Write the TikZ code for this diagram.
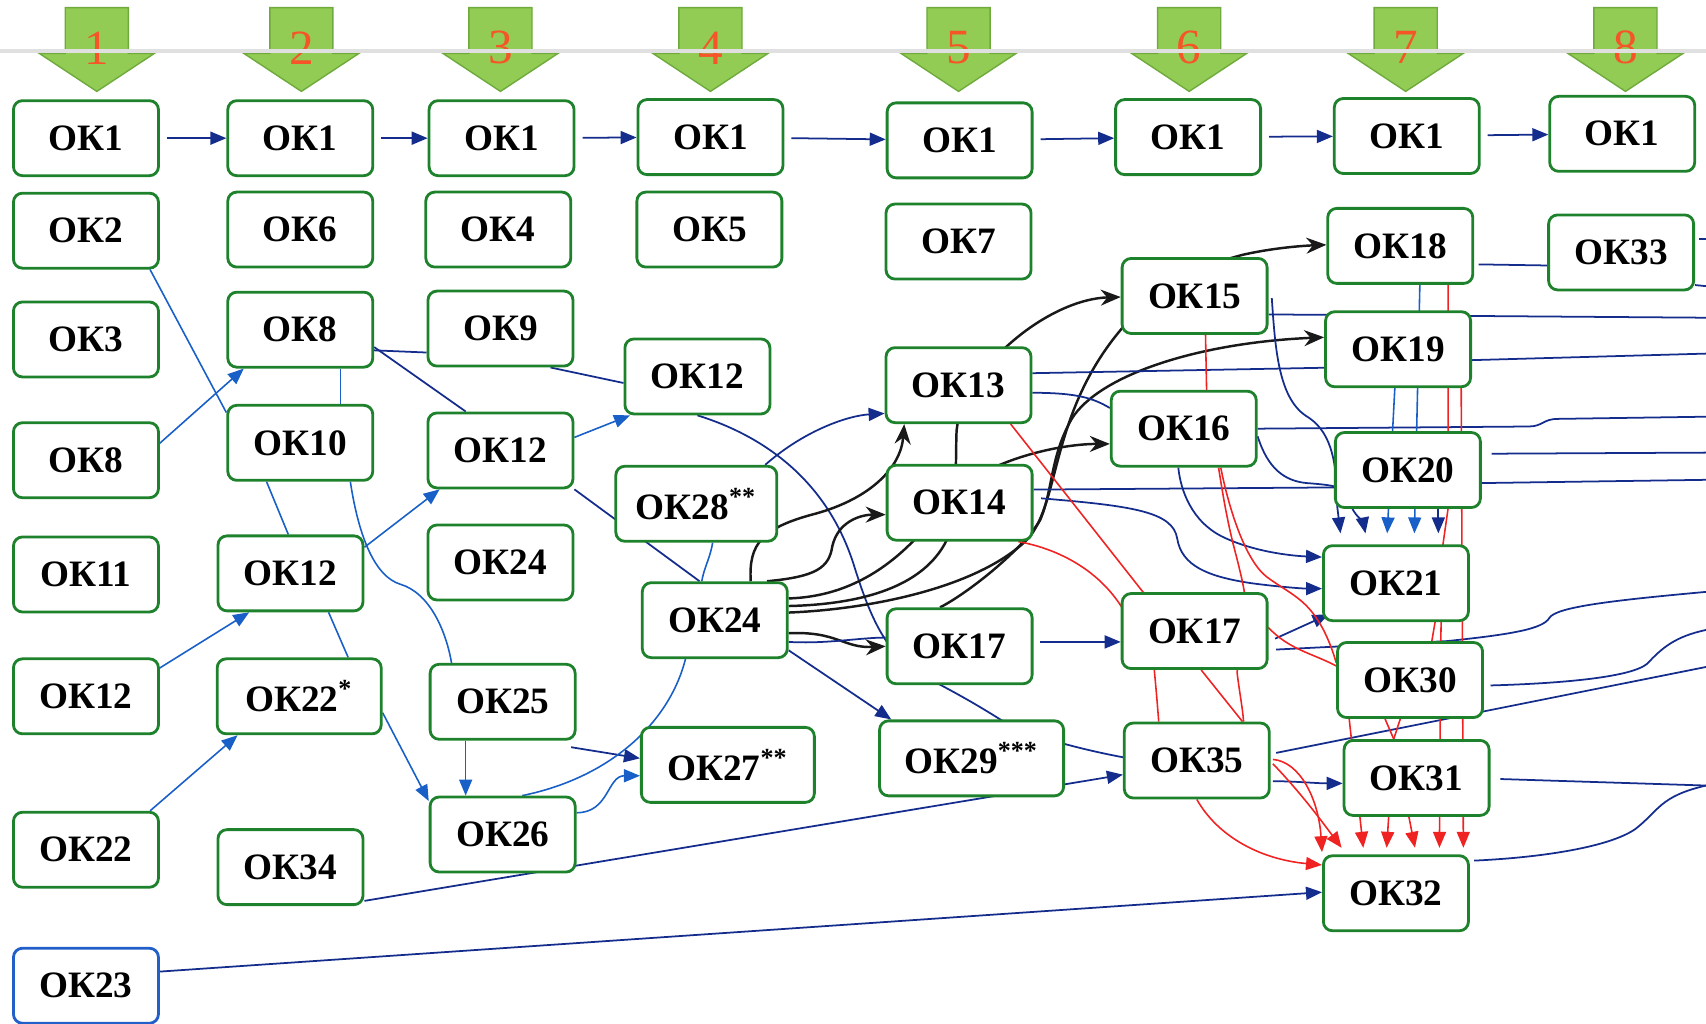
\documentclass[tikz,border=0pt]{standalone}
\usepackage{fontspec}
\setmainfont{Liberation Serif}
\usetikzlibrary{arrows.meta,calc,backgrounds}

\definecolor{okgreen}{RGB}{30,130,45}
\definecolor{okblue}{RGB}{35,95,200}
\definecolor{lblue}{RGB}{25,95,200}
\definecolor{dblue}{RGB}{20,45,140}
\definecolor{redline}{RGB}{240,35,35}
\definecolor{arrfill}{RGB}{146,204,84}
\definecolor{arrdraw}{RGB}{110,170,60}
\definecolor{numred}{RGB}{245,85,40}

\begin{document}
\begin{tikzpicture}
  [x=0.1088mm,y=-0.1088mm,
   ok/.style={draw=okgreen,line width=0.8pt,rounded corners=0.9mm,fill=white,
     minimum width=14.5mm,minimum height=7.5mm,inner sep=0pt,
     font=\fontsize{10.6}{12}\selectfont\bfseries},
   num/.style={text=numred,font=\fontsize{14}{16}\selectfont,inner sep=0pt},
   lb/.style={draw=lblue,line width=0.45pt},
   db/.style={draw=dblue,line width=0.5pt},
   bk/.style={draw=black!90,line width=0.7pt},
   rd/.style={draw=redline,line width=0.45pt},
   tip/.style={-{Triangle[length=1.6mm,width=1.3mm]}},
   btip/.style={-{Stealth[length=2mm,width=1.6mm]}}]
  \useasboundingbox (0,0) rectangle (1568,941);

  \foreach \x/\n in {89/1,277/2,460/3,653/4,881/5,1093/6,1292/7,1494/8} {
    \filldraw[fill=arrfill,draw=arrdraw,line width=0.4pt]
      (\x-29,7) -- (\x+29,7) -- (\x+29,49) -- (\x+53,49) -- (\x,84)
      -- (\x-53,49) -- (\x-29,49) -- cycle;
    \node[num] (n\n) at (\x,44) {\n};
  }
  \draw[black!12,line width=1pt] (0,47) -- (1568,47);

  \node[ok] (a1) at (79,127) {ОК1};
  \node[ok] (a2) at (79,212) {ОК2};
  \node[ok] (a3) at (79,312) {ОК3};
  \node[ok] (a8) at (79,423) {ОК8};
  \node[ok] (a11) at (79,528) {ОК11};
  \node[ok] (a12) at (79,640) {ОК12};
  \node[ok] (a22) at (79,781) {ОК22};
  \node[ok,draw=okblue] (a23) at (79,906) {ОК23};

  \node[ok] (b1) at (276,127) {ОК1};
  \node[ok] (b6) at (276,211) {ОК6};
  \node[ok] (b8) at (276,303) {ОК8};
  \node[ok] (b10) at (276,407) {ОК10};
  \node[ok] (b12) at (267,527) {ОК12};
  \node[ok,minimum width=16.4mm] (b22) at (275,640) {ОК22\textsuperscript{*}};
  \node[ok] (b34) at (267,797) {ОК34};

  \node[ok] (c1) at (461,127) {ОК1};
  \node[ok] (c4) at (458,211) {ОК4};
  \node[ok] (c9) at (460,302) {ОК9};
  \node[ok] (c12) at (460,414) {ОК12};
  \node[ok] (c24) at (460,517) {ОК24};
  \node[ok] (c25) at (462,645) {ОК25};
  \node[ok] (c26) at (462,767) {ОК26};

  \node[ok] (d1) at (653,126) {ОК1};
  \node[ok] (d5) at (652,211) {ОК5};
  \node[ok] (d12) at (641,346) {ОК12};
  \node[ok,minimum width=16.1mm] (d28) at (640,463) {ОК28\textsuperscript{**}};
  \node[ok] (d24) at (657,570) {ОК24};
  \node[ok,minimum width=17.3mm] (d27) at (669,703) {ОК27\textsuperscript{**}};

  \node[ok] (e1) at (882,129) {ОК1};
  \node[ok] (e7) at (881,222) {ОК7};
  \node[ok] (e13) at (881,354) {ОК13};
  \node[ok] (e14) at (882,462) {ОК14};
  \node[ok] (e17) at (882,594) {ОК17};
  \node[ok,minimum width=18.4mm] (e29) at (893,697) {ОК29\textsuperscript{***}};

  \node[ok] (f1) at (1092,126) {ОК1};
  \node[ok] (f15) at (1098,272) {ОК15};
  \node[ok] (f16) at (1088,394) {ОК16};
  \node[ok] (f17) at (1098,580) {ОК17};
  \node[ok] (f35) at (1100,699) {ОК35};

  \node[ok] (g1) at (1293,125) {ОК1};
  \node[ok] (g18) at (1287,226) {ОК18};
  \node[ok] (g19) at (1285,321) {ОК19};
  \node[ok] (g20) at (1294,432) {ОК20};
  \node[ok] (g21) at (1283,536) {ОК21};
  \node[ok] (g30) at (1296,625) {ОК30};
  \node[ok] (g31) at (1302,715) {ОК31};
  \node[ok] (g32) at (1283,821) {ОК32};

  \node[ok] (h1) at (1491,123) {ОК1};
  \node[ok] (h33) at (1490,232) {ОК33};

  \coordinate (o1) at (1568,220);
  \coordinate (o2) at (1568,263);
  \coordinate (o3) at (1568,292);
  \coordinate (o4) at (1568,325);
  \coordinate (o5) at (1568,383);
  \coordinate (o6) at (1568,416);
  \coordinate (o7) at (1568,441);
  \coordinate (o8) at (1568,544);
  \coordinate (o9) at (1568,579);
  \coordinate (o10) at (1568,613);
  \coordinate (o11) at (1568,722);

  \begin{scope}[on background layer]
    \foreach \from/\to in {a1/b1,b1/c1,c1/d1,d1/e1,e1/f1,f1/g1,g1/h1}
      \draw[db,tip,shorten <=2pt] (\from) -- (\to);

    % left part
    \draw[lb] ($(a2.south east)+(-9,0)$) -- ($(b10.north west)+(0,8)$);
    \draw[lb,tip] ($(a8.east)+(-3,-13)$) -- ($(b8.south west)+(16,0)$);
    \draw[lb] ($(b8.south)+(37,0)$) -- ($(b10.north)+(37,0)$);
    \draw[db] ($(b8.east)+(0,19)$) -- ($(c9.west)+(0,22)$);
    \draw[db] ($(b8.east)+(0,16)$) -- ($(c12.north west)+(36,0)$);
    \draw[db] ($(c9.south east)+(-22,0)$) -- ($(d12.west)+(0,6)$);
    \draw[lb,tip] ($(c12.east)+(0,-12)$) -- ($(d12.south west)+(6,0)$);
    \draw[lb] ($(b10.south)+(-31,0)$) -- ($(b12.north)+(-2,0)$);
    \draw[lb] ($(b10.south)+(46,0)$) .. controls (330,495) and (345,530) .. (368,537)
      .. controls (395,545) and (410,580) .. ($(c25.north)+(-47,0)$);
    \draw[lb,tip] ($(a12.east)+(-5,-23)$) -- ($(b12.south west)+(30,0)$);
    \draw[lb,tip] ($(b12.east)+(0,-24)$) -- ($(c12.south west)+(12,0)$);
    \draw[lb] ($(b12.south)+(35,0)$) -- ($(b22.north)+(45,0)$);
    \draw[lb,tip] ($(a22.north east)+(-9,0)$) -- ($(b22.south west)+(20,0)$);
    \draw[lb,tip] ($(b22.east)+(0,15)$) -- ($(c26.north west)+(0,5)$);
    \draw[lb,tip] ($(c25.south)+(-34,0)$) -- ($(c26.north)+(-34,0)$);
    \draw[db,tip] ($(c25.south east)+(-5,6)$) -- ($(d27.west)+(0,-6)$);
    \draw[lb,tip] ($(c26.east)+(0,-20)$) .. controls (560,747) and (558,713) .. ($(d27.west)+(0,10)$);
    \draw[lb] ($(c26.north)+(18,0)$) .. controls (560,715) and (615,665) .. ($(d24.south)+(-27,0)$);
    \draw[db,tip] ($(b34.east)+(0,31)$) -- ($(f35.west)+(0,13)$);
    \draw[db,tip] ($(a23.east)+(0,-13)$) -- ($(g32.west)+(0,-1)$);

    % middle part
    \draw[db] (c12.south east) -- ($(d24.north)+(-14,0)$);
    \draw[lb] ($(d28.south)+(15,0)$) .. controls (653,512) and (647,522) .. ($(d24.north)+(-12,0)$);
    \draw[db] (d12.south) .. controls (700,400) and (760,440) .. (785,520)
      .. controls (800,568) and (815,603) .. (850,622)
      .. controls (885,640) and (905,652) .. (930,668)
      .. controls (960,680) and (1000,690) .. ($(f35.west)+(0,-3)$);
    \draw[db,tip] ($(d28.north east)+(-12,0)$) .. controls (740,395) and (780,382) .. ($(e13.west)+(0,26)$);
    \draw[bk,btip] ($(d24.north)+(33,0)$) .. controls (688,500) and (700,485) .. (750,472)
      .. controls (800,458) and (828,430) .. ($(e13.south west)+(18,0)$);
    \draw[bk,btip] ($(d24.north east)+(-20,0)$) .. controls (750,530) and (762,522) .. (765,502)
      .. controls (770,480) and (790,473) .. ($(e14.west)+(0,11)$);
    \draw[bk,btip] ($(d24.east)+(0,-20)$) .. controls (790,548) and (835,510) .. (870,460)
      .. controls (900,425) and (970,408) .. ($(f16.west)+(0,14)$);
    \draw[bk,btip] ($(d24.east)+(0,-13)$) .. controls (810,555) and (870,530) .. (878,470) -- (879,400)
      .. controls (880,345) and (960,275) .. ($(f15.west)+(0,1)$);
    \draw[bk,btip] ($(d24.east)+(0,-7)$) .. controls (800,560) and (900,540) .. (945,495)
      .. controls (975,460) and (965,380) .. (1031,302)
      .. controls (1070,260) and (1100,245) .. (1143,234)
      .. controls (1170,228) and (1195,226) .. ($(g18.west)+(0,-1)$);
    \draw[bk,btip] ($(e17.north)+(-18,0)$) .. controls (890,545) and (940,505) .. (956,478)
      .. controls (968,450) and (965,420) .. (985,385)
      .. controls (1010,345) and (1100,315) .. ($(g19.west)+(0,-11)$);
    \draw[bk,btip] ($(d24.east)+(0,12)$) .. controls (770,580) and (775,596) .. (e17.west);
    \draw[db] ($(d24.east)+(0,20)$) .. controls (760,592) and (790,586) .. ($(e17.west)+(0,-8)$);
    \draw[db,tip] ($(d24.south east)+(0,-8)$) -- ($(e29.north west)+(12,0)$);
    \draw[db,tip] ($(e17.east)+(6,-4)$) -- ($(f17.west)+(0,10)$);

    % right part
    \draw[db] ($(e13.east)+(0,-11)$) -- ($(g19.west)+(0,17)$);
    \draw[db] ($(g19.east)+(0,10)$) -- (o4);
    \draw[db] ($(e13.east)+(0,7)$) .. controls (990,361) and (1005,366) .. ($(f16.west)+(0,-19)$);
    \draw[db] (f16.east) -- (1405,392) .. controls (1418,392) and (1418,385) .. (1432,385) -- (o5);
    \draw[db] ($(f15.east)+(0,17)$) -- (o3);
    \draw[db,tip] ($(f15.east)+(3,2)$) .. controls (1172,320) and (1175,365) .. (1200,382)
      .. controls (1222,395) and (1229,420) .. (1229,465) -- ($(g21.north west)+(17,-10)$);
    \draw[db] ($(f16.east)+(0,7)$) .. controls (1165,430) and (1180,442) .. (1201,444)
      .. controls (1215,445) and (1222,446) .. ($(g20.west)+(0,15)$);
    \draw[db] ($(e14.east)+(0,-12)$) -- ($(g20.west)+(0,16)$);
    \draw[db] ($(g20.east)+(0,12)$) -- (o7);
    \draw[db] ($(g20.east)+(9,-15)$) -- (o6);
    \draw[db,tip] ($(e14.east)+(7,-4)$) .. controls (1040,465) and (1078,470) .. (1082,495)
      .. controls (1086,520) and (1110,530) .. (1150,536)
      .. controls (1180,540) and (1200,541) .. ($(g21.west)+(0,5)$);
    \draw[db,tip] ($(f16.south)+(-5,0)$) .. controls (1085,450) and (1095,480) .. (1125,494)
      .. controls (1155,508) and (1190,511) .. ($(g21.west)+(0,-24)$);
    \draw[db,tip] ($(f17.east)+(6,7)$) -- ($(g21.south west)+(6,-7)$);
    \draw[db] ($(f17.east)+(7,17)$) -- ($(g30.north)+(34,0)$) .. controls (1390,583) and (1418,578) .. (1424,568)
      .. controls (1430,558) and (1480,552) .. (o8);
    \draw[db] ($(g30.east)+(6,5)$) .. controls (1440,628) and (1500,622) .. (1514,610)
      .. controls (1528,595) and (1540,585) .. (o9);
    \draw[db] ($(f35.east)+(5,-7)$) -- (o10);
    \draw[db,tip] ($(f35.east)+(2,19)$) .. controls (1190,718) and (1210,720) .. ($(g31.west)+(0,5)$);
    \draw[db] ($(g31.east)+(9,1)$) -- (o11);
    \draw[db] ($(g32.east)+(4,-30)$) .. controls (1420,788) and (1480,778) .. (1503,762)
      .. controls (1525,745) and (1525,732) .. (o11);
    \draw[db] ($(g18.east)+(4,17)$) -- ($(h33.west)+(0,12)$);
    \draw[db] ($(h33.east)+(4,-12)$) -- (o1);
    \draw[db] ($(h33.east)+(0,30)$) -- (o2);
    \draw[lb,tip] ($(g18.south)+(18,0)$) -- ($(g21.north)+(17,-10)$);
    \draw[lb,tip] ($(g19.south)+(-3,0)$) -- ($(g21.north)+(-8,-10)$);
    \draw[db,tip] ($(g20.south west)+(17,0)$) .. controls (1247,475) and (1253,480) .. ($(g21.north)+(-28,-10)$);
    \draw[db,tip] ($(g20.south)+(28,0)$) -- ($(g21.north)+(39,-10)$);

    % red lines
    \draw[rd] ($(e13.south east)+(-20,0)$) -- (1052,546) .. controls (1058,580) and (1062,625) .. ($(f35.north)+(-35,0)$);
    \draw[rd] ($(e14.south east)+(-14,0)$) .. controls (975,505) and (1010,525) .. (1031,558) -- (1166,577)
      .. controls (1185,597) and (1205,600) .. ($(g30.west)+(0,-13)$);
    \draw[rd] ($(f15.south)+(10,0)$) -- ($(f16.north)+(21,0)$);
    \draw[rd] ($(f16.south)+(32,0)$) .. controls (1124,455) and (1128,480) .. (1136,510)
      .. controls (1141,530) and (1145,545) .. (1145,560) -- (1137,618)
      .. controls (1139,635) and (1142,650) .. ($(f35.north)+(43,0)$);
    \draw[rd] ($(f16.south)+(34,0)$) .. controls (1130,470) and (1145,515) .. (1164,530)
      .. controls (1180,542) and (1195,548) .. (1207,564)
      .. controls (1218,578) and (1225,598) .. ($(g30.west)+(0,-16)$);
    \draw[rd] ($(f17.south)+(6,0)$) -- ($(f35.north)+(42,0)$);
    \draw[rd,tip] ($(f35.east)+(2,-1)$) .. controls (1195,700) and (1212,735) .. ($(g32.north west)+(0,-2)$);
    \draw[rd,tip] ($(f35.east)+(2,3)$) .. controls (1195,728) and (1215,755) .. ($(g32.north west)+(18,-6)$);
    \draw[rd,tip] (f35.south) .. controls (1120,770) and (1160,790) .. ($(g32.west)+(0,-26)$);
    \draw[rd,tip] ($(g18.south)+(44,0)$) -- (1331,467) -- (1326,502) -- (1324,600) -- ($(g32.north)+(40,-6)$);
    \draw[rd,tip] ($(g19.south)+(58,0)$) -- ($(g32.north)+(62,-6)$);
    \draw[rd] ($(g21.south)+(36,0)$) -- ($(g30.north)+(20,0)$);
    \draw[rd,tip] ($(g30.south west)+(12,0)$) -- ($(g32.north)+(-30,-6)$);
    \draw[rd,tip] ($(g30.south)+(-23,0)$) -- ($(g31.north)+(-21,0)$) -- ($(g32.north)+(-8.5,-6)$);
    \draw[rd,tip] ($(g30.south)+(-9,0)$) -- ($(g31.north)+(-21,0)$) -- ($(g32.north)+(17.5,-6)$);
  \end{scope}
\end{tikzpicture}
\end{document}
